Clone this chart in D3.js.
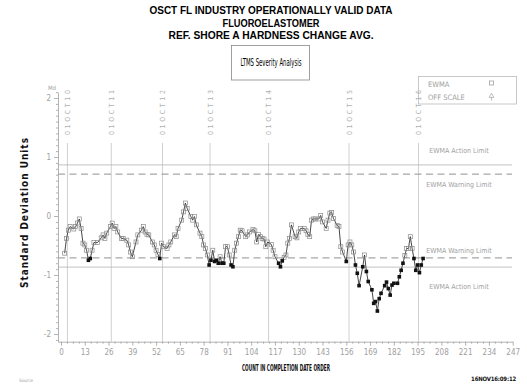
<!DOCTYPE html>
<html>
<head>
<meta charset="utf-8">
<script src="https://cdn.jsdelivr.net/npm/d3@7"></script>
<style>
  html, body { margin: 0; padding: 0; background: #fff; }
  svg { display: block; }
</style>
</head>
<body>
<svg id="chart" width="527" height="386"></svg>
<script>
// ---- data ----
const titleLines = [
  "OSCT FL INDUSTRY OPERATIONALLY VALID DATA",
  "FLUOROELASTOMER",
  "REF. SHORE A HARDNESS CHANGE AVG."
];

// test count (completion order) and EWMA value in standard deviation units
const counts = [
  2,3,4,5,7,8,9,10,11,12,13,14,15,16,17,18,20,22,23,24,
  25,27,28,29,30,31,33,34,36,37,38,39,41,42,44,45,46,47,48,50,
  51,52,53,54,55,56,58,59,60,62,63,64,66,67,68,69,71,72,73,74,
  76,77,78,79,80,81,82,83,84,85,86,87,88,89,90,91,92,93,94,95,
  96,97,98,99,
  101,102,103,105,106,107,108,109,110,111,112,113,115,116,117,119,120,121,122,123,
  124,125,126,128,129,130,131,133,134,135,136,137,138,139,141,142,143,145,146,147,
  148,149,151,152,153,154,156,157,158,159,160,161,162,163,165,166,167,168,170,171,
  172,173,174,175,177,178,179,180,181,182,184,185,186,187,188,189,190,191,192,193,
  194,195,196,197,198
];
const ewma = [
  -0.63,-0.38,-0.24,-0.18,-0.22,-0.18,-0.12,-0.05,-0.21,-0.46,
  -0.49,-0.58,-0.75,-0.72,-0.58,-0.45,-0.45,-0.37,-0.32,-0.38,
  -0.29,-0.18,-0.12,-0.21,-0.18,-0.27,-0.38,-0.38,-0.41,-0.49,
  -0.61,-0.69,-0.44,-0.32,-0.24,-0.18,-0.27,-0.31,-0.32,-0.44,
  -0.49,-0.58,-0.65,-0.72,-0.46,-0.52,-0.55,-0.49,-0.44,-0.32,
  -0.35,-0.21,-0.07,0.07,0.22,0.13,-0.01,-0.07,-0.01,-0.15,
  -0.29,-0.35,-0.49,-0.55,-0.66,-0.83,-0.75,-0.58,-0.77,-0.75,
  -0.80,-0.69,-0.80,-0.80,-0.52,-0.52,-0.66,-0.83,-0.86,-0.58,
  -0.46,-0.35,-0.24,-0.25,
  -0.35,-0.32,-0.27,-0.23,-0.25,-0.44,-0.31,-0.35,-0.38,-0.39,
  -0.52,-0.44,-0.48,-0.58,-0.69,-0.80,-0.86,-0.76,-0.70,-0.66,
  -0.46,-0.38,-0.15,-0.35,-0.37,-0.27,-0.21,-0.21,-0.25,-0.31,
  -0.35,-0.07,-0.05,-0.05,-0.05,0.01,-0.10,-0.21,-0.07,0.05,
  0.06,-0.04,-0.16,-0.18,-0.52,-0.61,-0.77,-0.49,-0.44,-0.49,
  -0.61,-0.83,-0.97,-1.18,-0.86,-0.66,-0.94,-1.11,-1.25,-1.48,
  -1.45,-1.61,-1.40,-1.31,-1.18,-1.12,-1.23,-1.34,-1.17,-1.14,
  -1.14,-1.03,-0.92,-0.80,-0.67,-0.55,-0.55,-0.35,-0.55,-0.72,
  -0.92,-0.83,-0.96,-0.83,-0.72
];

// first count of each test year
const yearStarts = [3.5, 27.5, 55.5, 81.5, 113.5, 157.5, 195.5];
const yearLabels = ["01OCT10","01OCT11","01OCT12","01OCT13","01OCT14","01OCT15","01OCT16"];

const warningLimit = 0.71;
const actionLimit = 0.866;

const xTicks = d3.range(0, 248, 13);
const yTicks = [-2, -1, 0, 1, 2];

// ---- drawing ----
const svg = d3.select("#chart");
const narrow = '"Liberation Sans Narrow","DejaVu Sans Condensed",sans-serif';
const grey = "#a0a0a0";

const x = d3.scaleLinear().domain([-1.64, 247]).range([58, 512.7]);
const y = d3.scaleLinear().domain([-2.13, 2.1]).range([341.7, 92.1]);

// titles
const titleY = [14, 27, 39];
const titleW = [243, 97, 205];
svg.selectAll("text.title").data(titleLines).join("text")
  .attr("class", "title")
  .attr("x", 271).attr("y", (d, i) => titleY[i])
  .attr("text-anchor", "middle")
  .attr("textLength", (d, i) => titleW[i])
  .attr("lengthAdjust", "spacingAndGlyphs")
  .style("font-family", '"Liberation Sans",Arial,sans-serif')
  .style("font-weight", "bold").style("font-size", "10px")
  .text(d => d);

// LTMS box
svg.append("rect").attr("x", 231.5).attr("y", 45.5).attr("width", 78).attr("height", 34.5)
  .attr("fill", "none").attr("stroke", "#888").attr("stroke-width", 0.8);
svg.append("text").attr("x", 271).attr("y", 66).attr("text-anchor", "middle")
  .attr("textLength", 61).attr("lengthAdjust", "spacingAndGlyphs")
  .style("font-family", narrow).style("font-size", "10px").attr("fill", "#000")
  .text("LTMS Severity Analysis");

// legend
const leg = svg.append("g");
leg.append("rect").attr("x", 418.5).attr("y", 76.5).attr("width", 98).attr("height", 27.5)
  .attr("fill", "none").attr("stroke", "#bbb").attr("stroke-width", 0.8);
leg.append("text").attr("x", 428).attr("y", 87).text("EWMA");
leg.append("text").attr("x", 428).attr("y", 100).text("OFF SCALE");
leg.selectAll("text").style("font-family", narrow).style("font-size", "7.5px").attr("fill", grey);
leg.append("rect").attr("x", 489.5).attr("y", 81).attr("width", 4).attr("height", 4)
  .attr("fill", "none").attr("stroke", grey).attr("stroke-width", 0.8);
leg.append("path").attr("transform", "translate(491.5,96)")
  .attr("d", d3.symbol(d3.symbolTriangle, 10)())
  .attr("fill", "none").attr("stroke", grey).attr("stroke-width", 0.7);
leg.append("line").attr("x1", 491.5).attr("x2", 491.5).attr("y1", 97).attr("y2", 100.5)
  .attr("stroke", grey).attr("stroke-width", 0.7);

// y axis title
svg.append("text")
  .attr("transform", "translate(28,213) rotate(-90)")
  .attr("text-anchor", "middle")
  .attr("textLength", 150).attr("lengthAdjust", "spacing")
  .style("font-family", narrow).style("font-weight", "bold").style("font-size", "10px")
  .attr("fill", "#111")
  .text("Standard Deviation Units");

// year separators
const yrs = svg.append("g");
yrs.selectAll("line").data(yearStarts).join("line")
  .attr("x1", d => x(d)).attr("x2", d => x(d))
  .attr("y1", 143).attr("y2", y(-2.13))
  .attr("stroke", "#c4c4c4").attr("stroke-width", 0.8);
yrs.selectAll("text").data(yearLabels).join("text")
  .attr("transform", (d, i) => `translate(${x(yearStarts[i]) + 2.5},135) rotate(-90)`)
  .attr("textLength", 45).attr("lengthAdjust", "spacing")
  .style("font-family", narrow).style("font-size", "7px").attr("fill", "#b0b0b0")
  .text(d => d);

// limit lines
const limits = [
  { v: actionLimit, dash: null, label: "EWMA Action Limit", dy: -12 },
  { v: warningLimit, dash: "7,4.5", label: "EWMA Warning Limit", dy: 13 },
  { v: -warningLimit, dash: "7,4.5", label: "EWMA Warning Limit", dy: -5 },
  { v: -actionLimit, dash: null, label: "EWMA Action Limit", dy: 22 }
];
const lim = svg.append("g");
lim.selectAll("line").data(limits).join("line")
  .attr("x1", x(-1.64)).attr("x2", 512)
  .attr("y1", d => y(d.v)).attr("y2", d => y(d.v))
  .attr("stroke", d => d.dash ? "#909090" : "#b4b4b4")
  .attr("stroke-width", d => d.dash ? 1 : 0.8)
  .attr("stroke-dasharray", d => d.dash);
lim.selectAll("text").data(limits).join("text")
  .attr("x", 459).attr("y", d => y(d.v) + d.dy)
  .attr("text-anchor", "middle")
  .style("font-family", narrow).style("font-size", "7px").attr("fill", grey)
  .text(d => d.label);

// axes
const yAxisG = svg.append("g").attr("transform", "translate(58,0)");
yAxisG.call(d3.axisLeft(y).tickValues(yTicks).tickSize(4).tickSizeOuter(0).tickFormat(d => String(d)));
yAxisG.append("g").call(d3.axisLeft(y).tickValues(d3.range(-2.1, 2.11, 0.1).filter(v => Math.abs(v - Math.round(v)) > 0.01)).tickSize(2).tickFormat(""))
  .select(".domain").remove();
yAxisG.selectAll("line, path").attr("stroke", grey).attr("stroke-width", 0.8);
yAxisG.selectAll("text").style("font-family", narrow).style("font-size", "8px").attr("fill", grey);
svg.append("text").attr("x", 52).attr("y", 90).attr("text-anchor", "middle")
  .style("font-family", narrow).style("font-size", "6px").attr("fill", grey).text("Md");

const xAxisG = svg.append("g").attr("transform", `translate(0,${y(-2.13)})`);
xAxisG.call(d3.axisBottom(x).tickValues(xTicks).tickSize(4).tickSizeOuter(0).tickPadding(4));
xAxisG.append("g").call(d3.axisBottom(x).tickValues(d3.range(0, 248, 3.25).filter(v => v % 13 !== 0)).tickSize(2).tickFormat(""))
  .select(".domain").remove();
xAxisG.selectAll("line, path").attr("stroke", grey).attr("stroke-width", 0.8);
xAxisG.selectAll("text").style("font-family", narrow).style("font-size", "8px").attr("fill", grey);

// EWMA series
const pts = counts.map((c, i) => ({ c, v: ewma[i] }));
svg.append("path").datum(pts)
  .attr("d", d3.line().x(d => x(d.c)).y(d => y(d.v)))
  .attr("fill", "none").attr("stroke", "#333").attr("stroke-width", 0.9);
svg.append("g").selectAll("rect").data(pts.filter(d => d.v >= -warningLimit)).join("rect")
  .attr("x", d => x(d.c) - 2).attr("y", d => y(d.v) - 2)
  .attr("width", 4).attr("height", 4)
  .attr("fill", "none").attr("stroke", "#8a8a8a").attr("stroke-width", 0.7);
svg.append("g").selectAll("rect").data(pts.filter(d => d.v < -warningLimit)).join("rect")
  .attr("x", d => x(d.c) - 1.8).attr("y", d => y(d.v) - 1.8)
  .attr("width", 3.6).attr("height", 3.6)
  .attr("fill", "#111");

// footer
svg.append("text").attr("x", 286).attr("y", 371).attr("text-anchor", "middle")
  .attr("textLength", 88).attr("lengthAdjust", "spacingAndGlyphs")
  .style("font-family", narrow).style("font-weight", "bold").style("font-size", "9.5px")
  .attr("fill", "#111").text("COUNT IN COMPLETION DATE ORDER");
svg.append("text").attr("x", 516).attr("y", 381).attr("text-anchor", "end")
  .style("font-family", narrow).style("font-weight", "bold").style("font-size", "6px")
  .style("letter-spacing", "-0.2px")
  .attr("fill", "#111").text("16NOV16:09:12");
svg.append("text").attr("x", 19).attr("y", 382)
  .style("font-family", narrow).style("font-size", "4.5px").attr("fill", "#999").text("Source");
</script>
</body>
</html>
